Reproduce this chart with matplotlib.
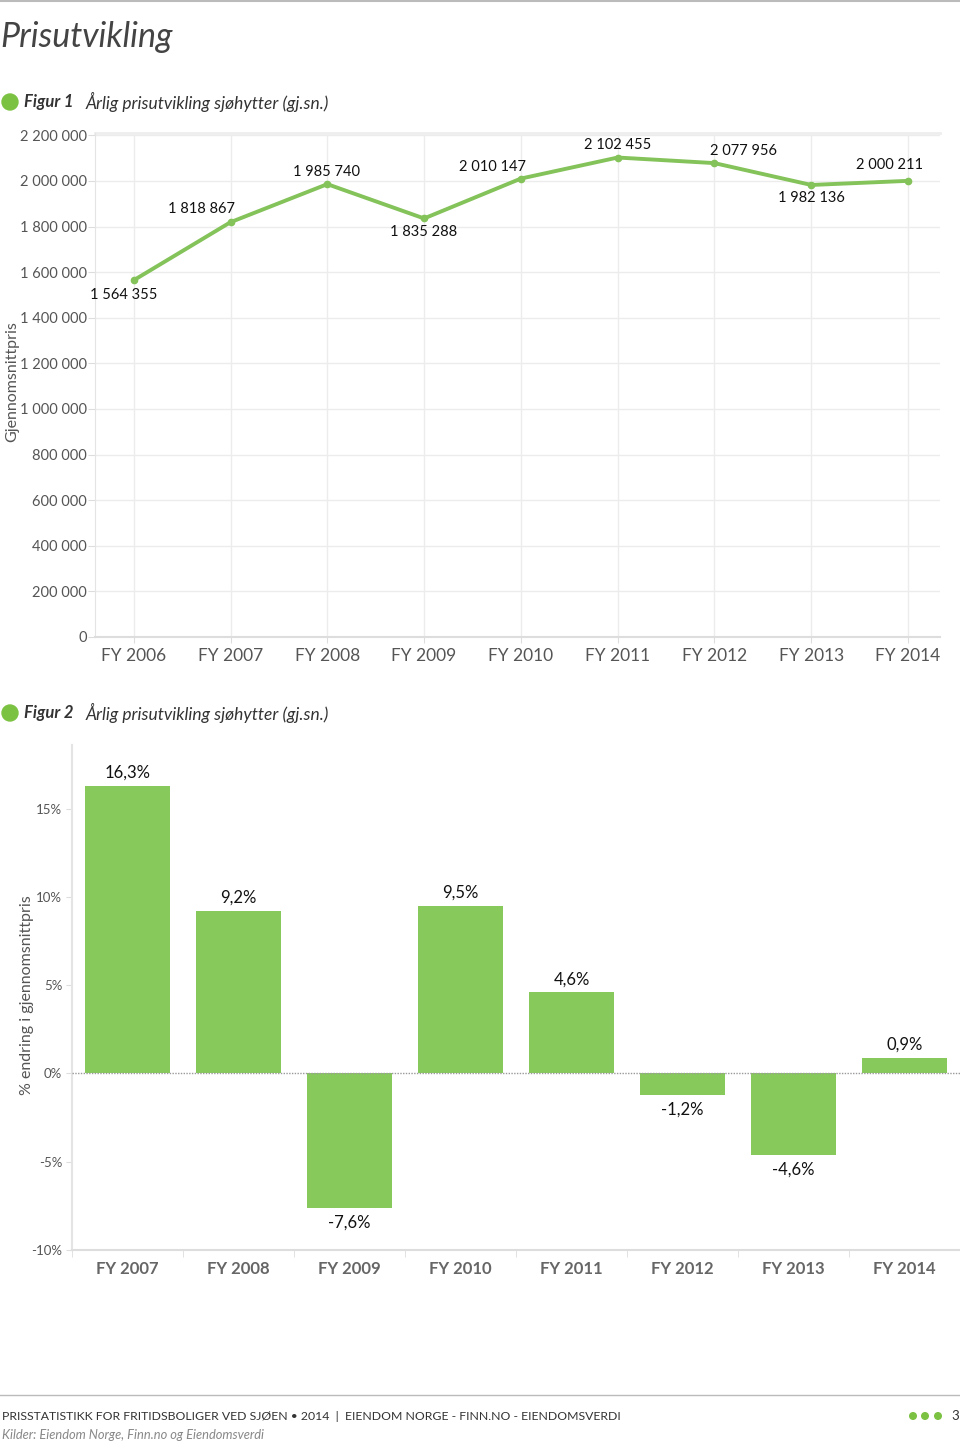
import matplotlib
matplotlib.use("Agg")
import matplotlib.pyplot as plt
from matplotlib.patches import Ellipse
from matplotlib.lines import Line2D

plt.rcParams['font.family'] = ['Lato', 'DejaVu Sans']

# data
years_1 = ["FY 2006", "FY 2007", "FY 2008", "FY 2009", "FY 2010",
           "FY 2011", "FY 2012", "FY 2013", "FY 2014"]
prices = [1564355, 1818867, 1985740, 1835288, 2010147,
          2102455, 2077956, 1982136, 2000211]
price_ticks = [0, 200000, 400000, 600000, 800000, 1000000,
               1200000, 1400000, 1600000, 1800000, 2000000, 2200000]

years_2 = ["FY 2007", "FY 2008", "FY 2009", "FY 2010",
           "FY 2011", "FY 2012", "FY 2013", "FY 2014"]
changes = [16.3, 9.2, -7.6, 9.5, 4.6, -1.2, -4.6, 0.9]
change_ticks = [-10, -5, 0, 5, 10, 15]

GREEN_LINE = "#84c25a"
GREEN_BAR = "#88c95c"
GREEN_DOT = "#7cc242"
GRID = "#ececec"
TXT = "#555555"

W, H = 960, 1446
fig = plt.figure(figsize=(W / 100, H / 100), dpi=100)


def fy(y):
    return 1 - y / H


def fx(x):
    return x / W


def pos(x0, y0, x1, y1):
    return [fx(x0), fy(y1), fx(x1) - fx(x0), fy(y0) - fy(y1)]


def dot(x, y, r):
    fig.add_artist(Ellipse((fx(x), fy(y)), 2 * r / W, 2 * r / H,
                           color=GREEN_DOT, transform=fig.transFigure))


def fmt_num(v):
    return f"{v:,}".replace(",", " ")


def fmt_pct(v):
    return f"{v:.1f}%".replace(".", ",")


# header
fig.add_artist(Line2D([0, 1], [fy(1), fy(1)], color="#bbbbbb", lw=1.5))
fig.text(fx(0), fy(37), "Prisutvikling", fontsize=24.5, style="italic",
         color="#444444", va="center", ha="left")

for ytop, num in [(102, "1"), (713, "2")]:
    dot(10, ytop, 8)
    fig.text(fx(24), fy(ytop), f"Figur {num}", fontsize=12, style="italic",
             weight="bold", color="#333333", va="center")
    fig.text(fx(86), fy(ytop), "Årlig prisutvikling sjøhytter (gj.sn.)",
             fontsize=12.5, style="italic", color="#333333", va="center")

# figure 1: line chart
ax1 = fig.add_axes(pos(95, 133, 940, 637))
x1 = list(range(len(years_1)))
ax1.plot(x1, prices, color=GREEN_LINE, lw=2.8, marker="o", ms=4.5,
         solid_capstyle="round")
ax1.set_xlim(-0.40, 8.33)
ax1.set_ylim(0, 2210000)
ax1.set_xticks(x1)
ax1.set_xticklabels(years_1, fontsize=12.5, color=TXT)
ax1.set_yticks(price_ticks)
ax1.set_yticklabels([fmt_num(t) for t in price_ticks], fontsize=10.5,
                    color=TXT)
ax1.grid(True, color=GRID, lw=1)
ax1.set_axisbelow(True)
for s in ["top", "right"]:
    ax1.spines[s].set_visible(False)
ax1.spines["left"].set_color("#e4e4e4")
ax1.spines["bottom"].set_color("#dddddd")
ax1.spines["bottom"].set_linewidth(1.5)
ax1.plot([-0.40, 8.33], [2210000, 2210000], color="#eeeeee", lw=2,
         clip_on=False)
ax1.tick_params(axis="y", length=5, color="#dddddd", pad=1)
ax1.tick_params(axis="x", length=4, color="#dddddd", pad=4)
fig.text(fx(12), fy(382), "Gjennomsnittpris", rotation=90, fontsize=11.5,
         color=TXT, ha="center", va="center")

# label offsets in pixels (dx, dy)
label_off = [(-10, -15), (-29, 13), (-1, 12), (-1, -14), (-28, 12),
             (0, 13), (29, 12), (0, -13), (-19, 16)]
for x, v, (dx, dy) in zip(x1, prices, label_off):
    ax1.annotate(fmt_num(v), (x, v), xytext=(dx, dy),
                 textcoords="offset pixels", ha="center", va="center",
                 fontsize=10.5, color="#111111")

# figure 2: bar chart
ax2 = fig.add_axes(pos(72, 745, 960, 1250))
x2 = list(range(len(years_2)))
ax2.bar(x2, changes, width=0.76, color=GREEN_BAR, zorder=2)
ax2.set_xlim(-0.49, 7.37)
ax2.set_ylim(-10, 18.6)
ax2.set_yticks(change_ticks)
ax2.set_yticklabels([f"{t}%" for t in change_ticks], fontsize=9.5,
                    color=TXT)
ax2.set_xticks(x2)
ax2.set_xticklabels(years_2, fontsize=12, weight="bold", color="#666666")
ax2.set_xticks([i - 0.5 for i in range(len(years_2) + 1)], minor=True)
ax2.tick_params(axis="x", which="major", length=0, pad=8)
ax2.tick_params(axis="x", which="minor", length=5, color="#dddddd")
ax2.tick_params(axis="y", length=4, color="#dddddd", pad=3)
ax2.axhline(0, color="#999999", lw=1, ls=(0, (1, 1)), zorder=3)
for s in ["top", "right"]:
    ax2.spines[s].set_visible(False)
ax2.spines["left"].set_color("#e4e4e4")
ax2.spines["left"].set_linewidth(1.5)
ax2.spines["bottom"].set_color("#dddddd")
ax2.spines["bottom"].set_linewidth(1.5)
fig.text(fx(27), fy(995), "% endring i gjennomsnittpris", rotation=90,
         fontsize=11.5, color=TXT, ha="center", va="center")

for x, v in zip(x2, changes):
    if v >= 0:
        ax2.annotate(fmt_pct(v), (x, v), xytext=(0, 13),
                     textcoords="offset pixels", ha="center", va="center",
                     fontsize=12, color="#111111")
    else:
        ax2.annotate(fmt_pct(v), (x, v), xytext=(0, -15),
                     textcoords="offset pixels", ha="center", va="center",
                     fontsize=12, color="#111111")

# footer
fig.add_artist(Line2D([0, 1], [fy(1395), fy(1395)], color="#bbbbbb", lw=1))
fig.text(fx(2), fy(1416),
         "PRISSTATISTIKK FOR FRITIDSBOLIGER VED SJØEN • 2014  |  "
         "EIENDOM NORGE - FINN.NO - EIENDOMSVERDI",
         fontsize=8.8, color="#333333", va="center")
fig.text(fx(2), fy(1435), "Kilder: Eiendom Norge, Finn.no og Eiendomsverdi",
         fontsize=9.3, style="italic", color="#888888", va="center")
for xd in [913, 925, 938]:
    dot(xd, 1416, 3.3)
fig.text(fx(955), fy(1416), "3", fontsize=9.5, color="#333333",
         va="center", ha="center")

fig.savefig("out.png", dpi=100)
